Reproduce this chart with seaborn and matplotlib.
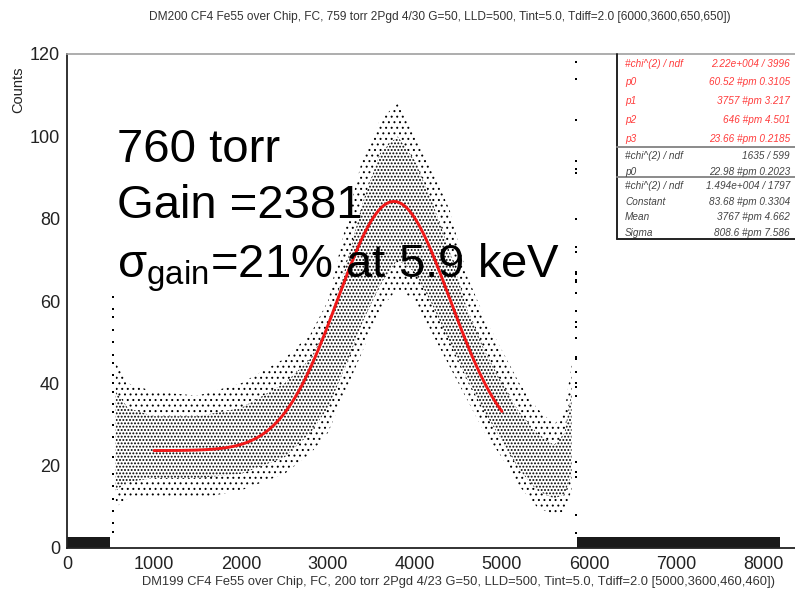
import matplotlib
matplotlib.use("Agg")
import matplotlib.pyplot as plt
from matplotlib.lines import Line2D
import numpy as np
import pandas as pd
import seaborn as sns

# ---- spectrum envelope (counts per channel), outer extent of the channel scatter
band_x  = [560, 700, 1000, 1500, 2000, 2500, 2800, 3000, 3200, 3400, 3600, 3800, 4000, 4200, 4400, 4600, 4800, 5000, 5200, 5400, 5600, 5720, 5800]
band_lo = [10, 12, 12, 12, 14, 18, 23, 28, 38, 48, 58, 63, 60, 52, 44, 36, 28, 22, 15, 10, 8, 9, 14]
band_hi = [45, 40, 38, 37, 40, 46, 52, 60, 78, 95, 104, 108, 100, 92, 82, 66, 56, 48, 40, 34, 30, 33, 45]

# dense core of the channel scatter
core_lo = [14, 16, 17, 17, 18, 22, 28, 34, 44, 55, 64, 70, 67, 59, 50, 41, 33, 26, 19, 14, 12, 13, 18]
core_hi = [38, 34, 32, 32, 34, 40, 46, 54, 68, 84, 96, 100, 94, 84, 72, 58, 48, 40, 33, 28, 25, 28, 38]

# pedestal channels below threshold and above the cut
ped_low_x  = [0, 500]
ped_low_hi = [2.6, 2.6]
ped_high_x  = [5860, 8200]
ped_high_hi = [2.7, 2.7]

# isolated channels on the rising and falling edges
edge_left_x = 525
edge_left_counts = [61, 58, 56, 53, 50, 47, 45, 42, 40, 38, 35, 33, 30, 27, 22, 18, 15, 12, 9, 6, 4]
edge_right_x = 5850
edge_right_counts = [118, 114, 104, 94, 92, 91, 80, 73, 72, 67, 66.5, 65, 64.5, 62, 57.5, 55,
                     53.6, 51, 46.5, 46, 42.7, 40, 39, 37, 21, 18.5, 17.3, 8, 3.7]

# gaussian + constant fit results
fit_p0, fit_p1, fit_p2, fit_p3 = 60.52, 3757.0, 646.0, 23.66
fit_lo, fit_hi = 1000, 5000

stats_red = [("#chi^(2) / ndf", "2.22e+004 / 3996"),
             ("p0", "60.52 #pm 0.3105"),
             ("p1", "3757 #pm 3.217"),
             ("p2", "646 #pm 4.501"),
             ("p3", "23.66 #pm 0.2185")]
stats_pol = [("#chi^(2) / ndf", "1635 / 599"),
             ("p0", "22.98 #pm 0.2023")]
stats_gaus = [("#chi^(2) / ndf", "1.494e+004 / 1797"),
              ("Constant", "83.68 #pm 0.3304"),
              ("Mean", "3767 #pm 4.662"),
              ("Sigma", "808.6 #pm 7.586")]

title_top = "DM200 CF4 Fe55 over Chip, FC, 759 torr 2Pgd 4/30 G=50, LLD=500, Tint=5.0, Tdiff=2.0 [6000,3600,650,650])"
title_bottom = "DM199 CF4 Fe55 over Chip, FC, 200 torr 2Pgd 4/23 G=50, LLD=500, Tint=5.0, Tdiff=2.0 [5000,3600,460,460])"

sns.set_style("white")
plt.rcParams["font.family"] = ["Liberation Sans", "DejaVu Sans"]
plt.rcParams["mathtext.fontset"] = "custom"
plt.rcParams["mathtext.rm"] = "Liberation Sans"
plt.rcParams["mathtext.it"] = "Liberation Sans:italic"
plt.rcParams["text.color"] = "black"

W, H = 795, 600
fig = plt.figure(figsize=(W / 100, H / 100), dpi=100)
fx = lambda px: px / W
fy = lambda py: 1 - py / H

ax = fig.add_axes([fx(67), fy(548), fx(795) - fx(67), fy(54) - fy(548)])
ax.set_xlim(0, 8368)
ax.set_ylim(0, 120)

# channel scatter rendered as stippled envelopes: sparse halo, dense core
plt.rcParams["hatch.linewidth"] = 0.7
ax.fill_between(band_x, band_lo, core_lo, facecolor="none", edgecolor="black",
                hatch="...", linewidth=0)
ax.fill_between(band_x, core_hi, band_hi, facecolor="none", edgecolor="black",
                hatch="...", linewidth=0)
plt.rcParams["hatch.linewidth"] = 0.9
ax.fill_between(band_x, core_lo, core_hi, facecolor="none", edgecolor="black",
                hatch=".....", linewidth=0)
ax.fill_between(ped_low_x, 0, ped_low_hi, facecolor="black", alpha=0.9, linewidth=0)
ax.fill_between(ped_high_x, 0, ped_high_hi, facecolor="black", alpha=0.9, linewidth=0)

edges = pd.DataFrame({
    "channel": [edge_left_x] * len(edge_left_counts) + [edge_right_x] * len(edge_right_counts),
    "counts": edge_left_counts + edge_right_counts,
})
sns.scatterplot(data=edges, x="channel", y="counts", ax=ax, color="black",
                marker="s", s=4, linewidth=0)

# fitted curve
fx_ch = np.linspace(fit_lo, fit_hi, 400)
fit_df = pd.DataFrame({"channel": fx_ch,
                       "counts": fit_p0 * np.exp(-0.5 * ((fx_ch - fit_p1) / fit_p2) ** 2) + fit_p3})
sns.lineplot(data=fit_df, x="channel", y="counts", ax=ax, color="#f01818", linewidth=2.1)

ax.set_xlabel("")
ax.set_ylabel("")
ax.set_xticks(np.arange(0, 8001, 1000))
ax.set_xticks(np.arange(0, 8400, 200), minor=True)
ax.set_yticks(np.arange(0, 121, 20))
ax.set_yticks(np.arange(0, 121, 5), minor=True)
ax.tick_params(which="both", direction="in", width=1.2, color="#222222",
               labelsize=13, labelcolor="#222222")
ax.tick_params(which="major", length=9.5)
ax.tick_params(which="minor", length=4.5)
ax.tick_params(axis="x", pad=6)
ax.tick_params(axis="y", pad=5)
for s in ["left", "bottom"]:
    ax.spines[s].set_color("#222222")
    ax.spines[s].set_linewidth(1.3)
ax.spines["top"].set_color("#a0a0a0")
ax.spines["top"].set_linewidth(1.2)
ax.spines["right"].set_visible(False)

fig.text(fx(18), fy(90), "Counts", rotation=90, ha="center", va="center",
         fontsize=10.5, color="#222222")

fig.text(fx(440), fy(17), title_top, ha="center", va="center", fontsize=8.6, color="#333333")
fig.text(fx(459), fy(582), title_bottom, ha="center", va="center", fontsize=9.3, color="#333333")

# annotation block
fig.text(fx(117), fy(162), "760 torr", fontsize=34, va="baseline", ha="left", color="black")
fig.text(fx(117), fy(218), "Gain =2381", fontsize=34, va="baseline", ha="left", color="black")
fig.text(fx(117), fy(277), r"σ$_{\mathrm{gain}}$=21% at 5.9 keV", fontsize=34,
         va="baseline", ha="left", color="black")

# fit statistics box
box_l = 617
fig.add_artist(Line2D([fx(box_l), fx(box_l)], [fy(54), fy(239)], color="#222222", lw=1.4))
fig.add_artist(Line2D([fx(box_l), 1], [fy(239), fy(239)], color="#222222", lw=1.4))
for sep in (147, 177):
    fig.add_artist(Line2D([fx(box_l), 1], [fy(sep), fy(sep)], color="#8a8a8a", lw=1.4))

rows_y = [64, 82, 101, 120, 139, 156, 172, 186, 202, 217, 233]
rows = [(r, "#ff3c3c") for r in stats_red] + [(r, "#444444") for r in stats_pol] + \
       [(r, "#444444") for r in stats_gaus]
for y, ((lab, val), col) in zip(rows_y, rows):
    fig.text(fx(625), fy(y), lab, fontsize=7.2, style="italic", color=col, ha="left", va="center")
    fig.text(fx(790), fy(y), val, fontsize=7.2, style="italic", color=col, ha="right", va="center")

fig.savefig("out.png", dpi=100)
